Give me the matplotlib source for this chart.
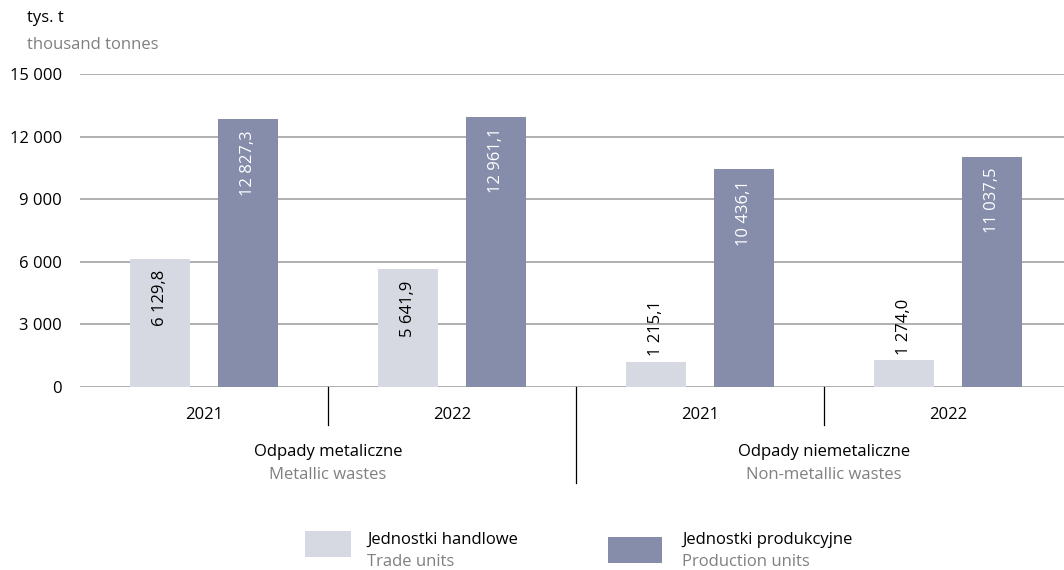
import matplotlib.pyplot as plt
import numpy as np
from matplotlib.patches import Rectangle

plt.rcParams['font.family'] = ['Open Sans', 'DejaVu Sans']

years = ['2021', '2022', '2021', '2022']
groups = ['Odpady metaliczne', 'Odpady niemetaliczne']
groups_en = ['Metallic wastes', 'Non-metallic wastes']
trade = [6129.8, 5641.9, 1215.1, 1274.0]
production = [12827.3, 12961.1, 10436.1, 11037.5]
series_pl = ['Jednostki handlowe', 'Jednostki produkcyjne']
series_en = ['Trade units', 'Production units']
yticks = [0, 3000, 6000, 9000, 12000, 15000]

light = '#d6d9e2'
dark = '#858dab'
grid = '#9a9a9a'
gray_txt = '#808080'
fs = 12


def fmt(v):
    s = f'{v:,.1f}'
    return s.replace(',', ' ').replace('.', ',')


def fmt_tick(v):
    return f'{int(v):,}'.replace(',', ' ')


fig = plt.figure(figsize=(10.64, 5.70), dpi=100)
ax = fig.add_axes([80 / 1064, 1 - 387 / 570, 984 / 1064, 313 / 570])

x = np.arange(len(years)) + 0.5
w = 0.242
off = 0.177

ax.bar(x - off, trade, w, color=light, zorder=3)
ax.bar(x + off, production, w, color=dark, zorder=3)

ax.set_xlim(0, 984 / 248)
ax.set_ylim(0, 15000)
ax.set_yticks(yticks)
ax.set_yticklabels([fmt_tick(t) for t in yticks], fontsize=fs)
ax.tick_params(axis='y', length=0, pad=13)
ax.set_xticks([])
for s in ax.spines.values():
    s.set_visible(False)
for t in yticks:
    ax.axhline(t, color=grid, lw=1.1, zorder=1)

# value labels
for xi, v in zip(x - off, trade):
    if v > 3000:
        ax.annotate(fmt(v), (xi, v), xytext=(0, -8), textcoords='offset points',
                    rotation=90, ha='center', va='top', fontsize=fs, color='black', zorder=4)
    else:
        ax.annotate(fmt(v), (xi, v), xytext=(0, 4), textcoords='offset points',
                    rotation=90, ha='center', va='bottom', fontsize=fs, color='black', zorder=4)
for xi, v in zip(x + off, production):
    ax.annotate(fmt(v), (xi, v), xytext=(0, -8), textcoords='offset points',
                rotation=90, ha='center', va='top', fontsize=fs, color='white', zorder=4)

# category axis
for xi, yr in zip(x, years):
    ax.text(xi, (387 - 415) / 313 * 15000, yr, ha='center', va='center', fontsize=fs)
for xs, bottom in [(1, 425), (2, 483), (3, 425)]:
    ax.plot([xs, xs], [0, (387 - bottom) / 313 * 15000], color='black', lw=0.9,
            clip_on=False, zorder=2)
for gx, pl, en in zip([1, 3], groups, groups_en):
    ax.text(gx, (387 - 452) / 313 * 15000, pl, ha='center', va='center', fontsize=fs)
    ax.text(gx, (387 - 475) / 313 * 15000, en, ha='center', va='center', fontsize=fs,
            color=gray_txt)

# unit label
fig.text(27 / 1064, 1 - 18 / 570, 'tys. t', ha='left', va='center', fontsize=fs)
fig.text(27 / 1064, 1 - 45 / 570, 'thousand tonnes', ha='left', va='center', fontsize=fs,
         color=gray_txt)

# legend
for (px, py, pw, ph), c, pl, en, tx in [((305, 531, 46, 26), light, series_pl[0], series_en[0], 367),
                                        ((608, 537, 54, 26), dark, series_pl[1], series_en[1], 682)]:
    fig.add_artist(Rectangle((px / 1064, 1 - (py + ph) / 570), pw / 1064, ph / 570,
                             facecolor=c, edgecolor='none', transform=fig.transFigure))
    fig.text(tx / 1064, 1 - 540 / 570, pl, ha='left', va='center', fontsize=fs)
    fig.text(tx / 1064, 1 - 562 / 570, en, ha='left', va='center', fontsize=fs, color=gray_txt)

fig.savefig('out.png', dpi=100)
